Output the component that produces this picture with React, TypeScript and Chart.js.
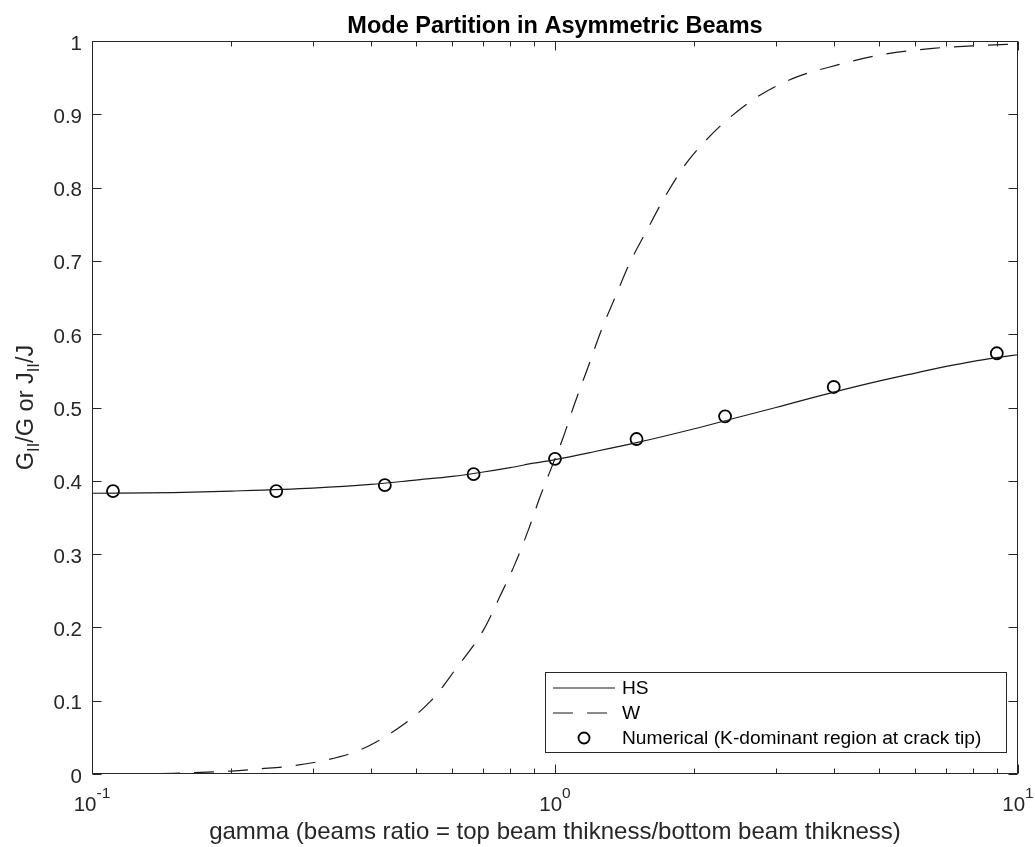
import React, { useEffect, useRef } from "react";
import { Chart, registerables } from "chart.js";

Chart.register(...registerables);

// Hutchinson–Suo mode partition (solid curve)
const gammaHS = [0.1, 0.15, 0.2, 0.3, 0.4, 0.5, 0.6, 0.7, 0.8, 0.9, 1.0, 1.2, 1.5, 2, 2.5, 3, 4, 5, 6, 7, 8, 9, 10];
const partHS = [0.383, 0.384, 0.386, 0.39, 0.395, 0.401, 0.406, 0.412, 0.418, 0.424, 0.429, 0.439, 0.452, 0.471, 0.487, 0.5, 0.521, 0.536, 0.547, 0.556, 0.563, 0.568, 0.572];

// W partition (dashed curve)
const gammaW = [0.1, 0.15, 0.2, 0.23, 0.27, 0.32, 0.38, 0.45, 0.54, 0.61, 0.7, 0.76, 0.82, 0.876, 0.928, 1.0, 1.04, 1.095, 1.18, 1.26, 1.35, 1.45, 1.58, 1.73, 1.92, 2.1, 2.35, 2.77, 3.33, 4.06, 5.04, 6.55, 8.4, 10];
const partW = [0.0, 0.001, 0.004, 0.007, 0.011, 0.019, 0.033, 0.059, 0.1, 0.143, 0.196, 0.242, 0.287, 0.333, 0.378, 0.43, 0.458, 0.5, 0.556, 0.606, 0.651, 0.697, 0.742, 0.788, 0.833, 0.862, 0.892, 0.926, 0.951, 0.967, 0.981, 0.99, 0.994, 0.996];

// Numerical results (open circles)
const gammaNum = [0.111, 0.25, 0.429, 0.667, 1.0, 1.5, 2.33, 4.0, 9.0];
const partNum = [0.386, 0.386, 0.394, 0.409, 0.43, 0.457, 0.488, 0.528, 0.574];

const yTicks = [0, 0.1, 0.2, 0.3, 0.4, 0.5, 0.6, 0.7, 0.8, 0.9, 1];
const yTickLabels = ["0", "0.1", "0.2", "0.3", "0.4", "0.5", "0.6", "0.7", "0.8", "0.9", "1"];
const xMajor = [0.1, 1, 10];
const xMajorExp = ["-1", "0", "1"];
const xMinor = [0.2, 0.3, 0.4, 0.5, 0.6, 0.7, 0.8, 0.9, 2, 3, 4, 5, 6, 7, 8, 9];

const legendLabels = ["HS", "W", "Numerical (K-dominant region at crack tip)"];
const titleText = "Mode Partition in Asymmetric Beams";
const xLabelText = "gamma (beams ratio = top beam thikness/bottom beam thikness)";
const yLabelParts: [string, boolean][] = [
  ["G", false],
  ["II", true],
  ["/G or J", false],
  ["II", true],
  ["/J", false],
];

const FONT = '"Liberation Sans", Arial, Helvetica, sans-serif';
const AXIS_COLOR = "#262626";
const DASH = [20, 14];

const toXY = (xs: number[], ys: number[]) => xs.map((x, i) => ({ x, y: ys[i] }));

const matlabAxes = {
  id: "matlabAxes",
  afterDatasetsDraw(chart: any) {
    const { ctx, chartArea, scales } = chart;
    const xs = scales.x;
    const ys = scales.y;
    const { left, right, top, bottom } = chartArea;
    const L = Math.round(left) + 0.5;
    const R = Math.round(right) - 0.5;
    const T = Math.round(top) + 0.5;
    const B = Math.round(bottom) - 0.5;

    ctx.save();
    ctx.strokeStyle = AXIS_COLOR;
    ctx.lineWidth = 1;
    ctx.setLineDash([]);

    // y ticks, pointing inward on both sides
    ctx.beginPath();
    yTicks.forEach((v) => {
      const y = Math.round(ys.getPixelForValue(v)) + 0.5;
      ctx.moveTo(L, y);
      ctx.lineTo(L + 9, y);
      ctx.moveTo(R, y);
      ctx.lineTo(R - 9, y);
    });
    // x major ticks
    xMajor.forEach((v) => {
      const x = Math.round(xs.getPixelForValue(v)) + 0.5;
      ctx.moveTo(x, B);
      ctx.lineTo(x, B - 9);
      ctx.moveTo(x, T);
      ctx.lineTo(x, T + 9);
    });
    // x minor ticks
    xMinor.forEach((v) => {
      const x = Math.round(xs.getPixelForValue(v)) + 0.5;
      ctx.moveTo(x, B);
      ctx.lineTo(x, B - 5);
      ctx.moveTo(x, T);
      ctx.lineTo(x, T + 5);
    });
    ctx.stroke();

    // axes box
    ctx.strokeRect(L, T, R - L, B - T);

    // y tick labels
    ctx.fillStyle = AXIS_COLOR;
    ctx.font = `20.5px ${FONT}`;
    ctx.textAlign = "right";
    ctx.textBaseline = "alphabetic";
    yTicks.forEach((v, i) => {
      const y = ys.getPixelForValue(v);
      ctx.fillText(yTickLabels[i], left - 10, y + 8.5);
    });

    // x tick labels: 10 with superscript exponent
    xMajor.forEach((v, i) => {
      const x = xs.getPixelForValue(v);
      ctx.font = `20.5px ${FONT}`;
      const wBase = ctx.measureText("10").width;
      ctx.font = `15.5px ${FONT}`;
      const wExp = ctx.measureText(xMajorExp[i]).width;
      const x0 = x - (wBase + wExp) / 2;
      ctx.textAlign = "left";
      ctx.font = `20.5px ${FONT}`;
      ctx.fillText("10", x0, bottom + 37);
      ctx.font = `15.5px ${FONT}`;
      ctx.fillText(xMajorExp[i], x0 + wBase, bottom + 24);
    });

    // title
    ctx.fillStyle = "#000";
    ctx.font = `bold 23.5px ${FONT}`;
    ctx.textAlign = "center";
    ctx.fillText(titleText, (left + right) / 2, 33);

    // x label
    ctx.fillStyle = AXIS_COLOR;
    ctx.font = `24px ${FONT}`;
    ctx.fillText(xLabelText, (left + right) / 2, bottom + 65);

    // y label with subscripts, rotated
    const mainFont = `23.5px ${FONT}`;
    const subFont = `16.5px ${FONT}`;
    let total = 0;
    const widths = yLabelParts.map(([t, sub]) => {
      ctx.font = sub ? subFont : mainFont;
      const w = ctx.measureText(t).width;
      total += w;
      return w;
    });
    ctx.save();
    ctx.translate(33, (top + bottom) / 2);
    ctx.rotate(-Math.PI / 2);
    ctx.textAlign = "left";
    let cx = -total / 2;
    yLabelParts.forEach(([t, sub], i) => {
      ctx.font = sub ? subFont : mainFont;
      ctx.fillText(t, cx, sub ? 6 : 0);
      cx += widths[i];
    });
    ctx.restore();

    // legend
    const lx = 545.5;
    const ly = 672.5;
    const lw = 461;
    const lh = 80;
    ctx.fillStyle = "#fff";
    ctx.fillRect(lx, ly, lw, lh);
    ctx.strokeStyle = AXIS_COLOR;
    ctx.lineWidth = 1;
    ctx.strokeRect(lx, ly, lw, lh);

    const rows = [688, 713, 738];
    const sx0 = 553;
    const sx1 = 615;
    ctx.strokeStyle = "#1a1a1a";
    ctx.lineWidth = 1.2;
    ctx.beginPath();
    ctx.moveTo(sx0, rows[0]);
    ctx.lineTo(sx1, rows[0]);
    ctx.stroke();
    ctx.setLineDash(DASH);
    ctx.beginPath();
    ctx.moveTo(sx0, rows[1]);
    ctx.lineTo(sx1, rows[1]);
    ctx.stroke();
    ctx.setLineDash([]);
    ctx.strokeStyle = "#000";
    ctx.lineWidth = 1.8;
    ctx.beginPath();
    ctx.arc((sx0 + sx1) / 2, rows[2], 5.5, 0, Math.PI * 2);
    ctx.stroke();

    ctx.fillStyle = "#000";
    ctx.font = `19.2px ${FONT}`;
    ctx.textAlign = "left";
    ctx.textBaseline = "middle";
    rows.forEach((y, i) => ctx.fillText(legendLabels[i], 622, y + 1));

    ctx.restore();
  },
};

export default function App() {
  const canvasRef = useRef<HTMLCanvasElement | null>(null);

  useEffect(() => {
    const canvas = canvasRef.current;
    if (!canvas) return;
    const chart = new Chart(canvas, {
      type: "line",
      data: {
        datasets: [
          {
            label: legendLabels[0],
            data: toXY(gammaHS, partHS),
            borderColor: "#1a1a1a",
            borderWidth: 1.2,
            pointRadius: 0,
            cubicInterpolationMode: "monotone",
            fill: false,
          },
          {
            label: legendLabels[1],
            data: toXY(gammaW, partW),
            borderColor: "#1a1a1a",
            borderWidth: 1.2,
            borderDash: DASH,
            pointRadius: 0,
            cubicInterpolationMode: "monotone",
            fill: false,
          },
          {
            label: legendLabels[2],
            data: toXY(gammaNum, partNum),
            showLine: false,
            pointStyle: "circle",
            pointRadius: 6,
            pointBorderWidth: 1.8,
            pointBorderColor: "#000",
            pointBackgroundColor: "rgba(0,0,0,0)",
            borderColor: "#000",
          },
        ],
      },
      options: {
        animation: false,
        responsive: false,
        maintainAspectRatio: false,
        events: [],
        layout: { padding: { left: 92, right: 17, top: 41, bottom: 73 } },
        plugins: {
          legend: { display: false },
          tooltip: { enabled: false },
          title: { display: false },
        },
        scales: {
          x: { type: "logarithmic", min: 0.1, max: 10, display: false },
          y: { type: "linear", min: 0, max: 1, display: false },
        },
      },
      plugins: [matlabAxes],
    });
    return () => chart.destroy();
  }, []);

  return (
    <div style={{ position: "fixed", left: 0, top: 0, width: 1035, height: 847, background: "#fff" }}>
      <canvas ref={canvasRef} width={1035} height={847} style={{ display: "block" }} />
    </div>
  );
}
